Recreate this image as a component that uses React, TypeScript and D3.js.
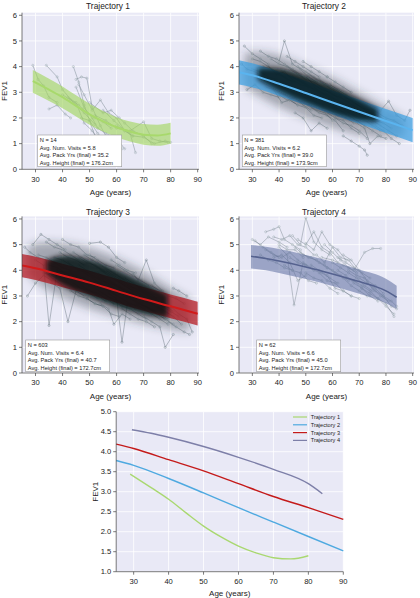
import React from 'react';
import * as d3 from 'd3';

const W = 420;
const H = 598;
const FONT = '"Liberation Sans", Arial, Helvetica, sans-serif';

// ---------- labels / stats ----------
const trajNames = ['Trajectory 1', 'Trajectory 2', 'Trajectory 3', 'Trajectory 4'];
const statN = ['14', '381', '603', '62'];
const statVisits = ['5.8', '6.2', '6.4', '6.6'];
const statPack = ['35.2', '39.0', '40.7', '45.0'];
const statHeight = ['176.2', '173.9', '172.7', '172.7'];
const xTicks = [30, 40, 50, 60, 70, 80, 90];
const yTicksSmall = [0, 1, 2, 3, 4, 5, 6];
const yTicksBig = [1.0, 1.5, 2.0, 2.5, 3.0, 3.5, 4.0, 4.5, 5.0];

// ---------- mean trajectories + bands ----------
const ages1 = [29, 35, 40, 45, 50, 55, 60, 65, 70, 75, 80];
const mean1 = [3.44, 3.1, 2.81, 2.47, 2.14, 1.87, 1.64, 1.47, 1.35, 1.32, 1.4];
const upper1 = [3.87, 3.53, 3.23, 2.88, 2.55, 2.27, 2.03, 1.86, 1.76, 1.74, 1.81];
const lower1 = [2.98, 2.66, 2.38, 2.06, 1.74, 1.47, 1.25, 1.08, 0.96, 0.92, 1.0];

const ages2 = [25, 30, 40, 50, 60, 70, 80, 90];
const mean2 = [3.78, 3.66, 3.33, 2.97, 2.6, 2.24, 1.88, 1.52];
const upper2 = [4.25, 4.13, 3.8, 3.44, 3.07, 2.71, 2.35, 2.0];
const lower2 = [3.3, 3.19, 2.86, 2.5, 2.13, 1.77, 1.41, 1.05];

const ages3 = [25, 30, 40, 50, 60, 70, 80, 90];
const mean3 = [4.19, 4.08, 3.8, 3.52, 3.2, 2.88, 2.6, 2.31];
const upper3 = [4.64, 4.53, 4.26, 3.98, 3.67, 3.35, 3.06, 2.78];
const lower3 = [3.73, 3.62, 3.34, 3.06, 2.74, 2.42, 2.13, 1.85];

const ages4 = [29.5, 35, 40, 50, 60, 70, 80, 84];
const mean4 = [4.55, 4.46, 4.36, 4.13, 3.86, 3.56, 3.2, 2.95];
const upper4 = [4.99, 4.92, 4.83, 4.6, 4.33, 4.03, 3.67, 3.4];
const lower4 = [4.07, 4.0, 3.9, 3.66, 3.39, 3.09, 2.72, 2.5];

// ---------- overplotted mass of the dense panels (envelopes) ----------
const haze2Ages = [27, 30, 40, 50, 60, 70, 80, 87];
const haze2Up = [4.5, 4.6, 4.5, 4.0, 3.6, 3.0, 2.4, 2.0];
const haze2Lo = [3.2, 3.0, 2.4, 2.0, 1.6, 1.3, 1.2, 1.3];
const core2Ages = [32, 40, 50, 60, 70, 77];
const core2Up = [3.95, 4.0, 3.65, 3.25, 2.75, 2.35];
const core2Lo = [3.5, 3.0, 2.55, 2.15, 1.85, 1.85];

const haze3Ages = [27, 30, 40, 50, 60, 70, 80, 87];
const haze3Up = [4.9, 5.1, 5.1, 4.9, 4.5, 4.0, 3.3, 2.9];
const haze3Lo = [3.9, 3.5, 2.9, 2.5, 2.2, 1.9, 1.7, 1.6];
const core3Ages = [34, 40, 50, 60, 70, 79];
const core3Up = [4.4, 4.65, 4.45, 4.05, 3.55, 3.05];
const core3Lo = [3.9, 3.35, 2.95, 2.55, 2.25, 2.15];

// ---------- individual subjects: [age, fev, age, fev, ...] ----------
const subjects1 = [
  [29, 4.05, 31, 3.5, 33, 3.25, 35, 2.8, 38, 2.6],
  [34, 4.05, 38, 3.6, 40, 3.1, 44, 2.6, 48, 2.2, 52, 1.75],
  [35, 2.35, 38, 2.5, 41, 2.15, 43, 2.0],
  [44, 4.0, 46, 3.4, 48, 2.5, 50, 1.9, 52, 1.3],
  [45, 3.5, 47, 3.6, 49, 3.55, 51, 2.4, 54, 1.7, 56, 1.3],
  [46, 3.3, 48, 2.9, 51, 2.3, 54, 2.7, 57, 2.2, 60, 2.0, 63, 1.5, 66, 1.3],
  [42, 2.8, 45, 2.6, 48, 1.8, 51, 1.5, 53, 1.2, 55, 0.9],
  [45, 3.2, 48, 2.4, 51, 2.0, 53, 1.6, 56, 1.4, 60, 1.2, 63, 0.8],
  [50, 2.6, 55, 2.2, 58, 2.3, 61, 2.0, 63, 1.8, 66, 1.5, 70, 1.3, 73, 1.0],
  [55, 2.3, 59, 1.9, 62, 1.6, 65, 1.4, 67, 0.65],
  [52, 2.1, 56, 1.9, 60, 1.6, 65, 1.5, 70, 1.85, 73, 1.2, 76, 1.1, 79, 1.05],
  [60, 1.7, 63, 1.5, 66, 1.3, 70, 1.25, 74, 1.0, 78, 1.1, 80, 1.05],
  [47, 2.0, 50, 1.9, 53, 1.4, 56, 1.1, 60, 1.0, 62, 0.8],
  [40, 2.9, 43, 2.7, 46, 2.5, 49, 2.2, 52, 2.0, 55, 1.85, 58, 1.6],
];

const subjects2 = [
  [26, 4.1, 28, 3.9, 31, 3.8, 34, 3.6, 37, 3.5],
  [27, 4.8, 30, 4.5, 33, 4.3, 36, 4.1],
  [28, 3.1, 31, 3.3, 34, 3.0, 37, 2.9, 40, 2.8],
  [30, 4.3, 33, 4.2, 36, 4.0, 39, 3.8, 42, 3.6, 45, 3.4],
  [32, 3.7, 35, 3.5, 38, 3.4, 41, 3.2, 44, 3.0],
  [33, 4.6, 36, 4.4, 39, 4.3, 42, 4.1, 45, 3.9, 48, 3.7],
  [35, 3.2, 38, 3.1, 41, 2.6, 44, 2.7, 47, 2.5],
  [36, 4.0, 39, 3.7, 42, 3.8, 45, 3.5, 48, 3.3, 51, 3.2],
  [38, 3.5, 41, 3.3, 44, 3.2, 47, 3.0, 50, 2.9, 53, 2.7],
  [40, 4.2, 42, 5.0, 45, 4.1, 48, 3.9, 51, 3.6, 54, 3.4],
  [40, 2.9, 43, 2.7, 46, 2.8, 49, 2.5, 52, 2.3],
  [41, 3.8, 44, 3.6, 47, 3.5, 50, 3.3, 53, 3.1, 56, 2.9],
  [42, 3.2, 45, 3.0, 48, 2.9, 51, 2.7, 54, 2.6, 57, 2.4],
  [43, 4.4, 46, 4.2, 49, 4.0, 52, 3.8, 55, 3.6],
  [44, 2.7, 47, 2.5, 50, 2.4, 53, 2.1, 56, 2.0],
  [45, 3.6, 48, 3.4, 51, 3.2, 54, 3.1, 57, 2.9, 60, 2.7],
  [46, 3.1, 49, 2.9, 52, 2.8, 55, 2.6, 58, 2.5, 61, 2.3],
  [47, 4.0, 50, 3.8, 53, 3.6, 56, 3.4, 59, 3.2],
  [48, 2.6, 51, 2.5, 54, 2.3, 57, 2.2, 60, 1.9],
  [49, 3.4, 52, 3.2, 55, 3.0, 58, 2.9, 61, 2.7, 64, 2.5],
  [50, 3.0, 53, 2.8, 56, 2.7, 59, 2.5, 62, 2.3, 65, 2.2],
  [51, 3.7, 54, 3.5, 57, 3.3, 60, 3.1, 63, 2.9],
  [52, 2.4, 55, 2.2, 58, 2.1, 61, 1.9, 64, 1.5],
  [53, 3.2, 56, 3.0, 59, 2.8, 62, 2.7, 65, 2.5, 68, 2.3],
  [54, 2.8, 57, 2.6, 60, 2.5, 63, 2.3, 66, 2.1],
  [55, 3.5, 58, 3.3, 61, 3.1, 64, 2.9, 67, 2.7, 70, 2.6],
  [56, 2.5, 59, 2.3, 62, 2.2, 65, 2.0, 68, 1.8],
  [57, 3.0, 60, 2.8, 63, 2.6, 66, 2.5, 69, 2.3, 72, 2.1],
  [58, 2.2, 61, 2.0, 64, 1.9, 67, 1.6, 70, 1.4],
  [59, 3.3, 62, 3.1, 65, 2.9, 68, 2.7, 71, 2.5],
  [60, 2.7, 63, 2.5, 66, 2.3, 69, 2.2, 72, 2.0, 75, 1.8],
  [61, 2.0, 64, 1.8, 67, 1.7, 70, 1.5, 73, 1.2],
  [62, 3.0, 65, 2.8, 68, 2.6, 71, 2.4, 74, 2.3],
  [63, 2.4, 66, 2.2, 69, 2.0, 72, 1.9, 75, 1.7, 78, 1.5],
  [65, 2.8, 68, 2.6, 71, 2.4, 74, 2.2, 77, 2.0],
  [66, 2.1, 69, 1.9, 72, 1.7, 75, 1.5, 78, 1.3],
  [68, 2.6, 71, 2.4, 74, 2.2, 77, 2.1, 80, 1.9],
  [69, 1.8, 72, 1.6, 74, 1.0, 77, 1.3, 80, 1.2],
  [70, 2.3, 73, 2.1, 76, 1.9, 79, 1.8, 82, 1.6],
  [72, 2.0, 75, 1.9, 78, 1.7, 81, 1.5, 84, 1.3],
  [74, 2.4, 77, 2.2, 80, 2.0, 83, 1.9, 86, 1.7],
  [76, 1.7, 79, 1.5, 82, 1.2, 85, 1.0],
  [78, 2.3, 81, 2.65, 84, 2.1, 87, 1.9, 89, 2.3],
  [64, 1.3, 67, 1.1, 70, 0.9, 72, 0.75, 73, 0.55],
  [30, 3.9, 33, 3.8, 36, 3.6, 39, 3.5],
  [34, 4.0, 37, 3.9, 40, 3.7, 43, 3.5, 46, 3.4],
  [37, 4.3, 40, 4.1, 43, 4.0, 46, 3.8, 49, 3.6],
  [39, 3.0, 42, 2.9, 45, 2.7, 48, 2.6],
  [44, 3.9, 47, 3.7, 50, 3.5, 53, 3.4, 56, 3.2],
  [46, 2.2, 49, 2.0, 52, 1.5, 55, 1.8, 58, 1.6],
  [49, 4.2, 52, 4.0, 55, 3.8, 58, 3.6],
  [52, 2.9, 55, 2.7, 58, 2.6, 61, 2.4, 64, 2.2, 67, 2.0],
  [55, 2.9, 58, 2.7, 61, 2.5, 64, 2.4, 67, 2.2, 70, 2.0],
  [58, 3.6, 61, 3.4, 64, 3.2, 67, 3.0],
  [62, 2.5, 65, 2.3, 68, 2.1, 71, 2.0, 74, 1.8],
  [45, 3.1, 48, 3.0, 51, 2.8, 54, 2.6, 57, 2.5],
  [50, 3.6, 53, 3.3, 56, 3.1, 59, 3.0, 62, 2.8],
  [53, 2.6, 56, 2.4, 59, 2.3, 62, 2.1],
  [57, 3.1, 60, 2.9, 63, 2.8, 66, 2.6, 69, 2.4],
  [60, 2.4, 63, 2.2, 66, 2.1, 69, 1.9, 72, 1.7],
];

const subjects3 = [
  [26, 4.9, 28, 4.7, 31, 4.5, 34, 4.4],
  [27, 3.0, 30, 3.5, 33, 3.8, 36, 3.6],
  [29, 5.0, 32, 5.4, 35, 5.2, 38, 5.0, 41, 4.8],
  [30, 4.4, 33, 4.2, 35, 1.85, 38, 4.0, 41, 3.9],
  [31, 4.6, 34, 4.5, 37, 4.3, 40, 4.1, 43, 4.0],
  [33, 3.9, 36, 3.8, 39, 3.6, 42, 3.5, 45, 3.3],
  [34, 5.1, 37, 4.9, 40, 4.8, 43, 4.6, 46, 4.4],
  [36, 3.5, 39, 3.3, 42, 2.0, 45, 3.2, 48, 3.0],
  [37, 4.5, 40, 4.4, 43, 4.2, 46, 4.0, 49, 3.9, 52, 3.7],
  [38, 4.0, 41, 3.9, 44, 3.7, 47, 3.6, 50, 3.4],
  [40, 5.2, 43, 5.0, 46, 4.9, 49, 4.6, 52, 4.5],
  [41, 3.6, 44, 3.4, 47, 3.3, 50, 3.1, 53, 2.9],
  [42, 4.3, 45, 4.1, 48, 4.0, 51, 3.8, 54, 3.6, 57, 3.5],
  [43, 3.2, 46, 3.0, 49, 2.9, 52, 2.7, 55, 2.6],
  [44, 4.7, 47, 4.5, 50, 4.3, 53, 4.1, 56, 3.9],
  [45, 3.8, 48, 3.7, 51, 3.5, 54, 3.3, 57, 3.2, 60, 3.0],
  [46, 4.2, 49, 4.0, 52, 3.9, 55, 3.7, 58, 3.5, 61, 3.3],
  [47, 3.4, 50, 3.2, 53, 3.1, 56, 2.9, 59, 2.7],
  [48, 4.6, 51, 4.4, 54, 4.2, 57, 4.0, 60, 3.8, 63, 3.6],
  [49, 2.9, 52, 2.7, 55, 2.6, 58, 2.3, 61, 2.2],
  [50, 5.05, 54, 5.1, 57, 4.9, 60, 4.5, 63, 4.3],
  [51, 3.9, 54, 3.7, 57, 3.5, 60, 3.4, 63, 3.2, 66, 3.0],
  [52, 3.3, 55, 3.1, 58, 2.9, 61, 2.8, 64, 2.6],
  [53, 4.3, 56, 4.1, 59, 3.9, 62, 3.7, 65, 3.5],
  [54, 2.7, 57, 2.5, 59, 1.9, 62, 2.3, 65, 2.1],
  [55, 3.6, 58, 3.4, 61, 3.2, 64, 3.0, 67, 2.9, 70, 2.7],
  [56, 4.0, 59, 3.8, 62, 3.6, 65, 3.4, 68, 3.2],
  [57, 3.1, 60, 2.9, 62, 1.2, 64, 2.7, 67, 2.5],
  [58, 3.8, 61, 3.6, 64, 3.4, 67, 3.3, 70, 3.1, 73, 2.9],
  [59, 2.8, 62, 2.6, 65, 2.5, 68, 2.3, 71, 2.1],
  [60, 4.2, 63, 4.0, 66, 3.8, 69, 3.6, 72, 3.4],
  [61, 3.4, 64, 3.2, 67, 3.0, 70, 2.8, 73, 2.7, 76, 2.5],
  [62, 2.5, 65, 2.3, 68, 2.1, 71, 2.0, 74, 1.8],
  [63, 3.7, 66, 3.5, 69, 3.3, 72, 3.1, 75, 2.9],
  [64, 3.0, 67, 2.8, 70, 2.6, 73, 2.5, 76, 2.3, 79, 2.1],
  [66, 3.9, 68, 3.6, 71, 4.4, 74, 3.5, 77, 3.2],
  [67, 2.7, 70, 2.5, 73, 2.3, 76, 2.1, 79, 1.9],
  [68, 3.3, 71, 3.1, 74, 2.9, 77, 2.7, 80, 2.5],
  [70, 2.2, 73, 2.0, 76, 1.8, 78, 1.0, 81, 1.5],
  [71, 3.0, 74, 2.8, 77, 2.6, 80, 2.4, 83, 2.2],
  [73, 3.4, 76, 3.2, 79, 3.0, 82, 2.9, 85, 2.7],
  [75, 2.6, 78, 2.4, 81, 2.2, 84, 1.9],
  [77, 2.8, 80, 2.6, 83, 2.3, 86, 2.1, 88, 1.6],
  [79, 2.0, 82, 1.8, 85, 1.6, 87, 1.5],
  [81, 3.3, 83, 3.2, 86, 3.0],
  [35, 4.2, 38, 4.1, 41, 3.9, 44, 3.8, 47, 3.6],
  [39, 4.7, 42, 4.5, 45, 4.4, 48, 4.2],
  [44, 3.5, 47, 3.3, 50, 3.2, 53, 3.0, 56, 2.8],
  [46, 4.5, 49, 4.3, 52, 4.2, 55, 4.0, 58, 3.8],
  [48, 3.9, 51, 3.7, 54, 3.5, 57, 3.4, 60, 3.2],
  [50, 4.6, 53, 4.4, 56, 4.2, 59, 4.1],
  [52, 3.6, 55, 3.4, 58, 3.2, 61, 3.1, 64, 2.9],
  [54, 4.0, 57, 3.8, 60, 3.6, 63, 3.4, 66, 3.2],
  [56, 3.3, 59, 3.1, 62, 2.9, 65, 2.7, 68, 2.6],
  [58, 4.4, 61, 4.2, 64, 4.0, 67, 3.9],
  [60, 3.6, 63, 3.4, 66, 3.2, 69, 3.0, 72, 2.8],
  [62, 3.1, 65, 2.9, 68, 2.7, 71, 2.6, 74, 2.4],
  [64, 3.4, 67, 3.2, 70, 3.0, 73, 2.8],
  [66, 2.9, 69, 2.7, 72, 2.5, 75, 2.3, 78, 2.1],
  [69, 3.2, 72, 3.0, 75, 2.8, 78, 2.6, 81, 2.4],
  [72, 2.5, 75, 2.3, 78, 2.1, 81, 1.9],
  [47, 4.0, 50, 3.9, 53, 3.7, 56, 3.5, 59, 3.3],
  [53, 3.9, 56, 3.7, 59, 3.5, 62, 3.3, 65, 3.1],
  [57, 3.6, 60, 3.4, 63, 3.2, 66, 3.1, 69, 2.9],
  [43, 3.9, 46, 3.7, 49, 3.6, 52, 3.4],
];

const subjects4 = [
  [30, 5.2, 33, 5.0, 36, 5.3, 40, 5.1, 43, 4.9],
  [31, 5.15, 34, 4.9, 37, 4.7, 40, 4.5],
  [35, 5.5, 38, 5.6, 40, 5.7, 42, 5.2, 45, 5.0, 48, 4.8],
  [38, 5.3, 41, 5.2, 44, 5.35, 47, 5.0, 50, 4.9, 53, 4.6],
  [33, 4.6, 36, 4.4, 39, 4.3, 42, 4.1, 45, 4.0],
  [40, 4.9, 43, 4.6, 45.6, 2.65, 49, 4.3, 52, 4.1],
  [45, 5.35, 48, 5.0, 50, 6.05, 53, 5.1, 56, 4.8, 59, 4.6],
  [47, 5.2, 50, 5.0, 53, 5.5, 56, 4.9, 59, 4.7, 62, 4.3],
  [50, 5.05, 53, 4.8, 56, 5.5, 59, 5.0, 62, 4.8, 65, 4.4],
  [54, 4.6, 57, 4.3, 60, 4.9, 63, 4.5, 66, 4.4, 69, 4.0],
  [56, 4.5, 60, 4.4, 64, 4.2, 68, 4.0, 72, 4.7, 75, 4.85, 78, 4.85],
  [60, 4.3, 63, 4.1, 66, 3.9, 69, 3.7, 72, 3.4, 75, 3.2],
  [62, 4.0, 65, 3.8, 68, 3.5, 71, 3.3, 74, 3.0, 77, 2.8],
  [65, 3.7, 68, 3.6, 71, 3.3, 74, 3.1, 77, 2.9, 80, 2.6, 83, 2.3],
  [68, 3.6, 71, 3.4, 74, 3.2, 77, 2.9, 80, 2.7, 83, 2.2],
  [70, 3.7, 73, 3.5, 76, 3.2, 79, 3.0, 82, 2.8, 84, 2.6],
  [44, 4.5, 47, 4.3, 50, 4.2, 53, 4.0, 56, 3.9, 59, 3.7, 62, 3.5],
  [48, 4.7, 51, 4.5, 54, 4.4, 57, 4.2, 60, 4.0, 63, 3.8, 66, 3.6],
  [52, 4.2, 55, 4.0, 58, 3.8, 61, 3.3, 64, 3.2, 67, 3.0],
  [55, 3.9, 58, 3.6, 61, 3.5, 64, 3.2, 67, 3.0, 70, 2.9],
  [42, 4.2, 45, 4.0, 48, 3.9, 51, 3.6, 54, 3.5],
  [58, 4.1, 61, 3.9, 64, 3.7, 67, 3.4, 70, 3.2, 73, 3.0],
  [35, 4.8, 38, 4.6, 41, 4.5, 44, 4.7, 47, 4.4, 50, 4.2],
  [62, 4.5, 65, 4.3, 68, 4.1, 71, 3.9, 74, 3.7],
  [38, 4.5, 41, 4.6, 44, 4.3, 47, 3.6, 50, 3.8],
  [64, 4.6, 67, 4.4, 70, 4.0, 73, 3.6, 76, 3.4, 79, 3.1],
  [46, 4.9, 49, 4.6, 52, 4.5, 55, 4.3, 58, 4.1],
  [73, 3.5, 76, 3.3, 79, 3.0, 82, 2.6, 84, 2.5],
  [57, 5.0, 60, 4.7, 63, 4.4, 66, 4.1, 69, 3.9],
  [50, 3.9, 53, 3.7, 56, 3.6, 59, 3.3, 62, 3.1],
  [66, 4.0, 69, 3.8, 72, 3.7, 75, 3.3, 78, 3.0, 81, 2.8],
  [40, 5.0, 43, 4.8, 46, 4.8, 49, 4.5],
];

// ---------- colours ----------
const BG = '#e9e9f6';
const bandColors = ['#9fd55a', '#3b9fe2', '#b3141c', '#5b6b9e'];
const meanColors = ['#a8d96c', '#5ab4ef', '#d11a1a', '#55628f'];
const legendColors = ['#a9d870', '#4ea9e0', '#c41a1a', '#7d7fa8'];

const panelData = [
  { ages: ages1, mean: mean1, upper: upper1, lower: lower1, subjects: subjects1, dense: null },
  {
    ages: ages2, mean: mean2, upper: upper2, lower: lower2, subjects: subjects2,
    dense: { hA: haze2Ages, hU: haze2Up, hL: haze2Lo, cA: core2Ages, cU: core2Up, cL: core2Lo },
  },
  {
    ages: ages3, mean: mean3, upper: upper3, lower: lower3, subjects: subjects3,
    dense: { hA: haze3Ages, hU: haze3Up, hL: haze3Lo, cA: core3Ages, cU: core3Up, cL: core3Lo },
  },
  { ages: ages4, mean: mean4, upper: upper4, lower: lower4, subjects: subjects4, dense: null },
];

// layout (pixel positions)
const panelBoxes = [
  { x0: 22, x1: 199, yb: 169.3, yt: 12.7, sx: 37.7, sy: 135, titleY: 9 },
  { x0: 239, x1: 414, yb: 169.3, yt: 12.7, sx: 242.3, sy: 135, titleY: 9 },
  { x0: 22, x1: 199, yb: 373, yt: 216.4, sx: 25.7, sy: 340, titleY: 214.5 },
  { x0: 239, x1: 414, yb: 373, yt: 216.4, sx: 256.7, sy: 340, titleY: 214.5 },
];
const spag = [
  { stroke: '#6f8088', op: 0.75, w: 0.6, dot: '#a3b0b6' },
  { stroke: '#34474f', op: 0.55, w: 0.6, dot: '#84929a' },
  { stroke: '#34474f', op: 0.55, w: 0.6, dot: '#84929a' },
  { stroke: '#5a6a72', op: 0.6, w: 0.6, dot: '#a3b0b6' },
];
const bandOpacity = [0.62, 0.72, 0.72, 0.55];

function pairs(arr: number[]): [number, number][] {
  const out: [number, number][] = [];
  for (let i = 0; i < arr.length; i += 2) out.push([arr[i], arr[i + 1]]);
  return out;
}

function SmallPanel({ i }: { i: number }) {
  const b = panelBoxes[i];
  const d = panelData[i];
  const x = d3.scaleLinear().domain([25, 90.5]).range([b.x0, b.x1]);
  const y = d3.scaleLinear().domain([0, 6.1]).range([b.yb, b.yt]);
  const line = d3.line<[number, number]>().x((p) => x(p[0])).y((p) => y(p[1]));
  const idx = d.ages.map((_, k) => k);
  const area = d3
    .area<number>()
    .x((k) => x(d.ages[k]))
    .y0((k) => y(d.lower[k]))
    .y1((k) => y(d.upper[k]))
    .curve(d3.curveMonotoneX);
  const meanLine = d3
    .line<number>()
    .x((k) => x(d.ages[k]))
    .y((k) => y(d.mean[k]))
    .curve(d3.curveMonotoneX);
  const envArea = (A: number[], U: number[], L: number[]) =>
    d3
      .area<number>()
      .x((k) => x(A[k]))
      .y0((k) => y(L[k]))
      .y1((k) => y(U[k]))
      .curve(d3.curveBasis)(A.map((_, k) => k)) || '';
  const s = spag[i];
  const cx = (b.x0 + b.x1) / 2;
  const cy = (b.yb + b.yt) / 2;
  const clipId = `clip${i}`;
  return (
    <g>
      <defs>
        <clipPath id={clipId}>
          <rect x={b.x0} y={b.yt} width={b.x1 - b.x0} height={b.yb - b.yt} />
        </clipPath>
      </defs>
      <rect x={b.x0} y={b.yt} width={b.x1 - b.x0} height={b.yb - b.yt} fill={BG} />
      {xTicks.map((t) => (
        <line key={'gx' + t} x1={x(t)} x2={x(t)} y1={b.yt} y2={b.yb} stroke="#fff" strokeWidth={0.8} />
      ))}
      {yTicksSmall.map((t) => (
        <line key={'gy' + t} x1={b.x0} x2={b.x1} y1={y(t)} y2={y(t)} stroke="#fff" strokeWidth={0.8} />
      ))}
      <g clipPath={`url(#${clipId})`}>
        {d.dense && (
          <path d={envArea(d.dense.hA, d.dense.hU, d.dense.hL)} fill="#2c3c42" fillOpacity={0.38} filter="url(#blurHaze)" />
        )}
        {d.subjects.map((sub, k) => (
          <path key={'s' + k} d={line(pairs(sub)) || ''} fill="none" stroke={s.stroke} strokeOpacity={s.op} strokeWidth={s.w} />
        ))}
        {d.subjects.map((sub, k) =>
          pairs(sub).map((p, j) => (
            <circle key={'c' + k + '_' + j} cx={x(p[0])} cy={y(p[1])} r={1.1} fill="none" stroke={s.dot} strokeWidth={0.5} />
          ))
        )}
        <path d={area(idx) || ''} fill={bandColors[i]} fillOpacity={bandOpacity[i]} />
        {d.dense && (
          <path d={envArea(d.dense.cA, d.dense.cU, d.dense.cL)} fill="#05090b" fillOpacity={0.82} filter="url(#blurCore)" />
        )}
        <path d={meanLine(idx) || ''} fill="none" stroke={meanColors[i]} strokeWidth={i === 3 ? 1.6 : 2} />
      </g>
      {/* axes */}
      <line x1={b.x0} x2={b.x0} y1={b.yt} y2={b.yb} stroke="#444" strokeWidth={0.7} />
      <line x1={b.x0} x2={b.x1} y1={b.yb} y2={b.yb} stroke="#444" strokeWidth={0.7} />
      {yTicksSmall.map((t) => (
        <g key={'yt' + t}>
          <line x1={b.x0 - 3} x2={b.x0} y1={y(t)} y2={y(t)} stroke="#444" strokeWidth={0.7} />
          <text x={b.x0 - 5} y={y(t) + 2.7} textAnchor="end" fontSize={7.6} fill="#222" fontFamily={FONT}>
            {t}
          </text>
        </g>
      ))}
      {xTicks.map((t) => (
        <g key={'xt' + t}>
          <line x1={x(t)} x2={x(t)} y1={b.yb} y2={b.yb + 3} stroke="#444" strokeWidth={0.7} />
          <text x={x(t)} y={b.yb + 12.2} textAnchor="middle" fontSize={7.6} fill="#222" fontFamily={FONT}>
            {t}
          </text>
        </g>
      ))}
      <text x={cx} y={b.yb + 25.5} textAnchor="middle" fontSize={8} fill="#222" fontFamily={FONT}>
        Age (years)
      </text>
      <text
        transform={`translate(${b.x0 - 15.5},${cy}) rotate(-90)`}
        textAnchor="middle"
        fontSize={8}
        fill="#222"
        fontFamily={FONT}
      >
        FEV1
      </text>
      <text x={cx - 2.5} y={b.titleY} textAnchor="middle" fontSize={8.4} fill="#222" fontFamily={FONT}>
        {trajNames[i]}
      </text>
      {/* stats box */}
      <rect x={b.sx} y={b.sy} width={84} height={31.7} fill="#fff" stroke="#9a9a9a" strokeWidth={0.6} />
      {[
        `N = ${statN[i]}`,
        `Avg. Num. Visits = ${statVisits[i]}`,
        `Avg. Pack Yrs (final) = ${statPack[i]}`,
        `Avg. Height (final) = ${statHeight[i]}cm`,
      ].map((txt, k) => (
        <text key={'st' + k} x={b.sx + 2} y={b.sy + 7 + k * 7.6} fontSize={5.7} fill="#222" fontFamily={FONT}>
          {txt}
        </text>
      ))}
    </g>
  );
}

function BottomPanel() {
  const x0 = 116.2,
    x1 = 343.3,
    yb = 571.7,
    yt = 411.7;
  const x = d3.scaleLinear().domain([25, 90]).range([x0, x1]);
  const y = d3.scaleLinear().domain([1, 5]).range([yb, yt]);
  return (
    <g>
      <rect x={x0} y={yt} width={x1 - x0} height={yb - yt} fill={BG} />
      {xTicks.map((t) => (
        <line key={'gx' + t} x1={x(t)} x2={x(t)} y1={yt} y2={yb} stroke="#fff" strokeWidth={0.8} />
      ))}
      {yTicksBig.map((t) => (
        <line key={'gy' + t} x1={x0} x2={x1} y1={y(t)} y2={y(t)} stroke="#fff" strokeWidth={0.8} />
      ))}
      {panelData.map((d, i) => {
        const idx = d.ages.map((_, k) => k);
        const ln = d3
          .line<number>()
          .x((k) => x(d.ages[k]))
          .y((k) => y(d.mean[k]))
          .curve(d3.curveMonotoneX);
        return <path key={'m' + i} d={ln(idx) || ''} fill="none" stroke={legendColors[i]} strokeWidth={1.4} />;
      })}
      <line x1={x0} x2={x0} y1={yt} y2={yb} stroke="#444" strokeWidth={0.7} />
      <line x1={x0} x2={x1} y1={yb} y2={yb} stroke="#444" strokeWidth={0.7} />
      {yTicksBig.map((t) => (
        <g key={'yt' + t}>
          <line x1={x0 - 3} x2={x0} y1={y(t)} y2={y(t)} stroke="#444" strokeWidth={0.7} />
          <text x={x0 - 5} y={y(t) + 2.7} textAnchor="end" fontSize={7.6} fill="#222" fontFamily={FONT}>
            {t.toFixed(1)}
          </text>
        </g>
      ))}
      {xTicks.map((t) => (
        <g key={'xt' + t}>
          <line x1={x(t)} x2={x(t)} y1={yb} y2={yb + 3} stroke="#444" strokeWidth={0.7} />
          <text x={x(t)} y={yb + 12.5} textAnchor="middle" fontSize={7.6} fill="#222" fontFamily={FONT}>
            {t}
          </text>
        </g>
      ))}
      <text x={(x0 + x1) / 2} y={595.5} textAnchor="middle" fontSize={8} fill="#222" fontFamily={FONT}>
        Age (years)
      </text>
      <text transform={`translate(${98},${(yb + yt) / 2}) rotate(-90)`} textAnchor="middle" fontSize={8} fill="#222" fontFamily={FONT}>
        FEV1
      </text>
      {trajNames.map((n, i) => (
        <g key={'lg' + i}>
          <line x1={293} x2={307} y1={417 + i * 7.8} y2={417 + i * 7.8} stroke={legendColors[i]} strokeWidth={1.2} />
          <text x={310.7} y={417 + i * 7.8 + 2} fontSize={5.6} fill="#222" fontFamily={FONT}>
            {n}
          </text>
        </g>
      ))}
    </g>
  );
}

export default function App() {
  return (
    <svg
      width={W}
      height={H}
      viewBox={`0 0 ${W} ${H}`}
      style={{ position: 'absolute', left: 0, top: 0, background: '#fff' }}
    >
      <defs>
        <filter id="blurHaze" x="-20%" y="-20%" width="140%" height="140%">
          <feGaussianBlur stdDeviation={4} />
        </filter>
        <filter id="blurCore" x="-20%" y="-20%" width="140%" height="140%">
          <feGaussianBlur stdDeviation={2.5} />
        </filter>
      </defs>
      <rect x={0} y={0} width={W} height={H} fill="#fff" />
      {[0, 1, 2, 3].map((i) => (
        <SmallPanel key={i} i={i} />
      ))}
      <BottomPanel />
    </svg>
  );
}
